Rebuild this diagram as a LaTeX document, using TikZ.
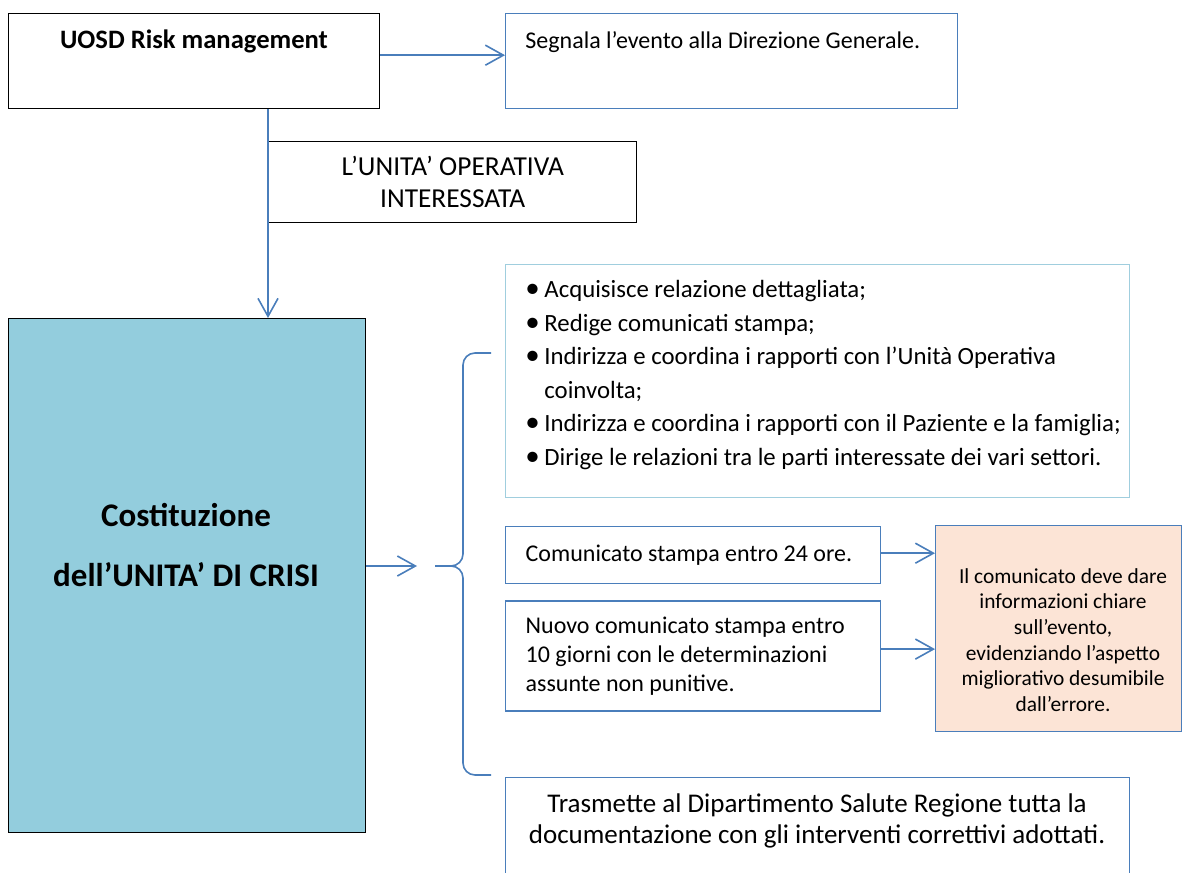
\documentclass[tikz,border=0pt]{standalone}
\usepackage{fontspec}
\setmainfont{Carlito}
\usepackage{xcolor}
\usepackage{tikz}
\usetikzlibrary{positioning,calc,arrows.meta}
\definecolor{linkblue}{RGB}{74,126,187}
\definecolor{listcyan}{RGB}{160,206,222}
\definecolor{crisisfill}{RGB}{147,205,221}
\definecolor{notefill}{RGB}{252,228,214}
\newcommand{\voce}{\makebox[9.5pt][l]{{\fontsize{14.5}{14}\selectfont\textbullet}}}
\newcommand{\rientro}{\hspace*{9.5pt}}

\begin{document}
\begin{tikzpicture}[
		x=0.5pt,y=-0.5pt, % <-- 1 unità = 1 pixel del disegno
		kbox/.style={draw=black, line width=0.7pt, inner sep=0pt, anchor=north west},
		bbox/.style={draw=linkblue, line width=0.7pt, inner sep=0pt, anchor=north west},
		link/.style={draw=linkblue, line width=0.8pt, -{Straight Barb[length=9pt,width=10pt]}},
		graffa/.style={draw=linkblue, line width=0.8pt, rounded corners=6pt},
		body/.style={font=\fontsize{12}{14.6}\selectfont}
		]
		\useasboundingbox (0,0) rectangle (1182,872);
		\clip (0,0) rectangle (1182,872);
		
		% ====== RIGA IN ALTO ======
		\node[kbox, minimum width=185.5pt, minimum height=47.5pt] (uosd) at (8,13) {};
		\node[font=\fontsize{13.3}{15}\selectfont\bfseries, inner sep=0pt, anchor=base] (uosd-txt) at (194,49)
		{UOSD Risk management};
		
		\node[bbox, minimum width=226pt, minimum height=47.5pt] (segn) at (505,13) {};
		\node[body, inner sep=0pt, anchor=base west] (segn-txt) at (525,49)
		{Segnala l’evento alla Direzione Generale.};
		
		\node[kbox, font=\fontsize{13.7}{15.8}\selectfont, align=center,
		minimum width=184pt, minimum height=40.5pt] (unita) at (268,141)
		{L’UNITA’ OPERATIVA\\INTERESSATA};
		
		% ====== UNITA' DI CRISI ======
		\node[kbox, fill=crisisfill, minimum width=178.5pt, minimum height=257pt] (crisis) at (8,318) {};
		\node[font=\fontsize{16.5}{30}\selectfont\bfseries, align=center] (crisis-txt) at (186,545)
		{Costituzione\\dell’UNITA’ DI CRISI};
		
		% ====== COLONNA DESTRA ======
		\node[draw=listcyan, line width=0.7pt, inner sep=0pt, anchor=north west,
		minimum width=312pt, minimum height=116.5pt] (list) at (505,264) {};
		\node[font=\fontsize{12.4}{16.75}\selectfont, text width=300pt, align=flush left,
		inner sep=0pt, anchor=north west] (list-txt) at (525,280)
		{\voce Acquisisce relazione dettagliata;\\
			\voce Redige comunicati stampa;\\
			\voce Indirizza e coordina i rapporti con l’Unità Operativa\\
			\rientro coinvolta;\\
			\voce Indirizza e coordina i rapporti con il Paziente e la famiglia;\\
			\voce Dirige le relazioni tra le parti interessate dei vari settori.};
		
		\node[bbox, body, text width=167.5pt, inner xsep=10pt, align=flush left,
		minimum width=187.5pt, minimum height=28.5pt] (comm) at (505,526)
		{Comunicato stampa entro 24 ore.};
		
		\node[bbox, body, text width=167.5pt, inner xsep=10pt, align=flush left,
		minimum width=187.5pt, minimum height=55pt,
		below=8pt of comm.south west, anchor=north west] (nuovo)
		{Nuovo comunicato stampa entro\\
			10 giorni con le determinazioni\\
			assunte non punitive.};
		
		\node[bbox, fill=notefill, minimum width=123pt, minimum height=103pt] (note) at (935,525) {};
		\node[font=\fontsize{10.7}{12.8}\selectfont, align=center] (note-txt) at (1063,640)
		{Il comunicato deve dare\\informazioni chiare\\sull’evento,\\evidenziando l’aspetto\\migliorativo desumibile\\dall’errore.};
		
		\node[bbox, minimum width=312pt, minimum height=55pt] (trasm) at (505,777) {};
		\node[font=\fontsize{13.5}{15.5}\selectfont, align=center] (trasm-txt) at (817,821)
		{Trasmette al Dipartimento Salute Regione tutta la\\documentazione con gli interventi correttivi adottati.};
		
		% ====== GRAFFA ======
		\coordinate (brace-top) at (491,353);
		\coordinate (brace-bot) at (491,775);
		\coordinate (brace-tip) at (435,566);
		\draw[graffa] (brace-top) -| ($(brace-tip)+(28,0)$) -- (brace-tip);
		\draw[graffa] (brace-bot) -| ($(brace-tip)+(28,0)$) -- (brace-tip);
		
		% ====== FRECCE ======
		\draw[link] ([yshift=3pt]uosd.east) -- ([yshift=3pt]segn.west);
		\draw[link] (unita.west |- uosd.south) -- (unita.west |- crisis.north);
		\draw[link] (crisis.east |- brace-tip) -- ([xshift=-9pt]brace-tip);
		\draw[link] ([yshift=1pt]comm.east) -- ([yshift=1pt]comm.east -| note.west);
		\draw[link] ([yshift=3.5pt]nuovo.east) -- ([yshift=3.5pt]nuovo.east -| note.west);
		
\end{tikzpicture}
\end{document}
